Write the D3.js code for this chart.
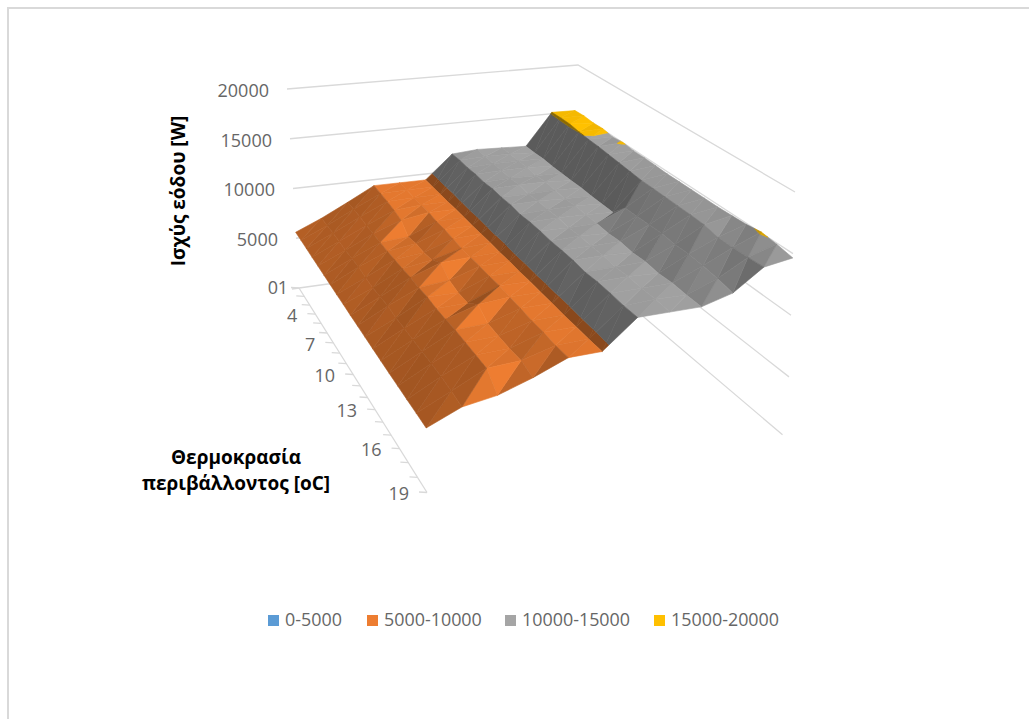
<!DOCTYPE html>
<html>
<head>
<meta charset="utf-8">
<script src="https://cdnjs.cloudflare.com/ajax/libs/d3/7.8.5/d3.min.js"></script>
<style>
  html, body { margin: 0; padding: 0; background: #fff; }
  svg { display: block; }
  text { font-family: "Open Sans", sans-serif; }
</style>
</head>
<body>
<svg id="chart" width="1029" height="719"></svg>
<script>
// Input power over ambient temperature (rows) and twelve operating steps (columns).
const rowLabels = d3.range(1, 20);
const columnKeys = d3.range(1, 13);
const valueTicks = [0, 5000, 10000, 15000, 20000];
const bandLabels = ["0-5000", "5000-10000", "10000-15000", "15000-20000"];
const bandColors = ["#5B9BD5", "#ED7D31", "#A5A5A5", "#FFC000"];
const bandEdges = [0, 5000, 10000, 15000, 20000];

const col01 = [5600,5600,5580,5560,5550,5530,5520,5500,5500,5480,5480,5470,5470,5460,5460,5470,5480,5500,5500];
const col02 = [6700,6750,6800,6800,6750,6800,6850,6750,6700,6800,6900,6800,6900,6900,6950,7000,7000,6950,6800];
const col03 = [8000,8050,8050,8000,8000,8000,8000,8050,8100,8200,8200,8300,8250,8300,8400,8400,8400,8400,7300];
const col04 = [9400,9350,9300,9200,9000,8200,8400,8400,8550,9200,8500,8300,8350,9200,8550,8500,8500,8600,8300];
const col05 = [9400,9400,9350,9400,9450,9350,9400,9350,9300,9350,9400,9400,9500,9450,9450,9400,9450,9400,9500];
const col06 = [9400,9400,9420,9400,9450,9450,9420,9450,9480,9450,9500,9470,9500,9480,9500,9480,9500,9500,9550];
const col07 = [11800,11850,11800,11850,11800,11900,11850,11900,11800,11900,11900,11850,11900,11900,11800,11900,11900,11850,11900];
const col08 = [12000,11950,11900,11950,11900,12000,11850,11950,11900,11950,11850,11950,11900,11950,11850,11950,11900,11950,11900];
const col09 = [11900,11950,11900,11950,11850,11950,11900,11850,11950,11900,11900,11850,11950,11850,11950,11850,11950,11900,11900];
const col10 = [11800,11800,11850,11800,11800,11800,11850,11800,11800,11800,13000,13050,13100,13150,13050,13100,13000,12850,12600];
const col11 = [15150,15200,15200,15050,14950,14900,14800,14700,14600,14500,14500,14480,14460,14450,14400,14150,14150,14200,14300];
const col12 = [15100,15150,15050,15100,14900,15030,14900,14900,14850,14800,14800,14800,14800,14800,14850,14900,15080,14900,14650];
const surfaceValues = [col01, col02, col03, col04, col05, col06, col07, col08, col09, col10, col11, col12];

const svg = d3.select("#chart");
const GRID = "#D9D9D9";
const TICK_TEXT = "#666666";

svg.append("rect").attr("x", 8).attr("y", 8).attr("width", 1040).attr("height", 740)
  .attr("fill", "#fff").attr("stroke", GRID).attr("stroke-width", 2);

// Camera: corners of the plot box on the page, for the floor and the ceiling.
const floorCorners = { a: [299, 288], b: [427, 492.5], c: [566, 251], d: [787, 438.5] };
const ceilCorners  = { a: [287, 89],  b: [424, 258],   c: [578, 65],  d: [795, 192] };

// Maps the unit square onto a quadrilateral with a projective transform.
function squareToQuad(q) {
  const [x0, y0] = q.a, [x1, y1] = q.c, [x2, y2] = q.d, [x3, y3] = q.b;
  const dx1 = x1 - x2, dx2 = x3 - x2, sx = x0 - x1 + x2 - x3;
  const dy1 = y1 - y2, dy2 = y3 - y2, sy = y0 - y1 + y2 - y3;
  const den = dx1 * dy2 - dx2 * dy1;
  const g = (sx * dy2 - dx2 * sy) / den, h = (dx1 * sy - sx * dy1) / den;
  const a = x1 - x0 + g * x1, b = x3 - x0 + h * x3;
  const d = y1 - y0 + g * y1, e = y3 - y0 + h * y3;
  return (u, v) => {
    const w = g * u + h * v + 1;
    return [(a * u + b * v + x0) / w, (d * u + e * v + y0) / w];
  };
}
const floorMap = squareToQuad(floorCorners);
const ceilMap = squareToQuad(ceilCorners);

// Scales take fractional grid positions because the band clipping creates them.
const uScale = d3.scaleLinear().domain([0, columnKeys.length - 1]).range([0, 1]);
const vScale = d3.scaleLinear().domain([0, rowLabels.length - 1]).range([0, 1]);
const zScale = d3.scaleLinear().domain([0, 20000]).range([0, 1]);

function project(u, v, value) {
  const f = floorMap(u, v), c = ceilMap(u, v), t = zScale(value);
  return [f[0] + (c[0] - f[0]) * t, f[1] + (c[1] - f[1]) * t];
}
const toScreen = p => project(uScale(p[0]), vScale(p[1]), p[2]);
const line = d3.line();

// Wall gridlines: back-left wall, then back-right wall.
const gridG = svg.append("g").attr("fill", "none").attr("stroke", GRID).attr("stroke-width", 1.3);
valueTicks.forEach(val => {
  const end = val === 0 ? 0.985 : 1;
  gridG.append("path").attr("d", line([project(0, 0, val), project(1, 0, val), project(1, end, val)]));
});
gridG.append("path").attr("d", line([[292, 289], project(0, 0, 0)]));

// Depth axis with one tick per temperature row.
gridG.append("path").attr("d", line([project(0, 0, 0), project(0, 1, 0)]));
rowLabels.forEach((r, i) => {
  const p = project(0, vScale(i), 0);
  gridG.append("path").attr("d", line([[p[0] - 8, p[1] - 0.5], p]));
  if ((r - 1) % 3 === 0) {
    svg.append("text").attr("x", p[0] - (i === 0 ? 11 : 18)).attr("y", p[1] + (i === 0 ? 1 : 3))
      .attr("text-anchor", "end").attr("dominant-baseline", "middle")
      .attr("font-size", 18).attr("fill", TICK_TEXT).text(r);
  }
});

// Value axis labels.
valueTicks.forEach(val => {
  const p = project(0, 0, val);
  svg.append("text").attr("x", p[0] - (val === 0 ? 21 : 18)).attr("y", p[1] + (val === 0 ? 1 : 3))
    .attr("text-anchor", "end").attr("dominant-baseline", "middle")
    .attr("font-size", 18).attr("fill", TICK_TEXT).text(val);
});

// Clips a triangle in (col,row,value) space to one value band.
function clipBand(tri, lo, hi) {
  const clip = (poly, inside, limit) => {
    const out = [];
    poly.forEach((p, i) => {
      const q = poly[(i + 1) % poly.length];
      const pin = inside(p[2]), qin = inside(q[2]);
      if (pin) out.push(p);
      if (pin !== qin) {
        const t = (limit - p[2]) / (q[2] - p[2]);
        out.push([p[0] + (q[0] - p[0]) * t, p[1] + (q[1] - p[1]) * t, limit]);
      }
    });
    return out;
  };
  let poly = clip(tri, z => z >= lo, lo);
  if (poly.length) poly = clip(poly, z => z <= hi, hi);
  return poly;
}

// Lambert-style shading from the facet's slopes along the two grid directions.
const light = [0.45, 0.45, 0.75];
function facetShade(tri) {
  const [p, q, r] = tri;
  const e1 = [q[0] - p[0], q[1] - p[1], q[2] - p[2]];
  const e2 = [r[0] - p[0], r[1] - p[1], r[2] - p[2]];
  const nx = e1[1] * e2[2] - e1[2] * e2[1];
  const ny = e1[2] * e2[0] - e1[0] * e2[2];
  const nz = e1[0] * e2[1] - e1[1] * e2[0];
  const gx = -nx / nz * 0.6 / 1000, gy = -ny / nz * 0.6 / 1000;
  const d = (-gx * light[0] - gy * light[1] + light[2]) / Math.hypot(gx, gy, 1);
  return 0.55 + 0.55 * Math.max(0, d);
}
function shadeColor(hex, k) {
  const c = d3.rgb(hex);
  return d3.rgb(Math.min(255, c.r * k), Math.min(255, c.g * k), Math.min(255, c.b * k)).formatHex();
}

// Surface, painted from the far right corner towards the viewer.
const surfaceG = svg.append("g");
function paintTriangle(tri) {
  const k = facetShade(tri);
  bandColors.forEach((color, b) => {
    const poly = clipBand(tri, bandEdges[b], bandEdges[b + 1]);
    if (poly.length < 3) return;
    const fill = shadeColor(color, k);
    surfaceG.append("path").attr("d", line(poly.map(toScreen)) + "Z")
      .attr("fill", fill).attr("stroke", fill).attr("stroke-width", 0.6).attr("stroke-linejoin", "round");
  });
}
for (let j = 0; j < rowLabels.length - 1; j++) {
  for (let i = columnKeys.length - 2; i >= 0; i--) {
    const v = (c, r) => [c, r, surfaceValues[c][r]];
    paintTriangle([v(i + 1, j), v(i + 1, j + 1), v(i, j + 1)]);
    paintTriangle([v(i, j), v(i + 1, j), v(i, j + 1)]);
  }
}

// Axis titles.
svg.append("text").attr("transform", "translate(185,191) rotate(-90)")
  .attr("text-anchor", "middle").attr("font-size", 19).attr("font-weight", 700)
  .attr("fill", "#000").text("Ισχύς εόδου [W]");
svg.append("text").attr("x", 236).attr("y", 464).attr("text-anchor", "middle")
  .attr("font-size", 19).attr("font-weight", 700).attr("fill", "#000").text("Θερμοκρασία");
svg.append("text").attr("x", 236).attr("y", 490).attr("text-anchor", "middle")
  .attr("font-size", 19).attr("font-weight", 700).attr("fill", "#000").text("περιβάλλοντος [oC]");

// Legend.
const legendX = [268, 367, 505, 654];
bandLabels.forEach((label, i) => {
  svg.append("rect").attr("x", legendX[i]).attr("y", 615).attr("width", 11).attr("height", 11)
    .attr("fill", bandColors[i]);
  svg.append("text").attr("x", legendX[i] + 17).attr("y", 621).attr("dominant-baseline", "middle")
    .attr("font-size", 17.9).attr("fill", TICK_TEXT).text(label);
});
</script>
</body>
</html>
